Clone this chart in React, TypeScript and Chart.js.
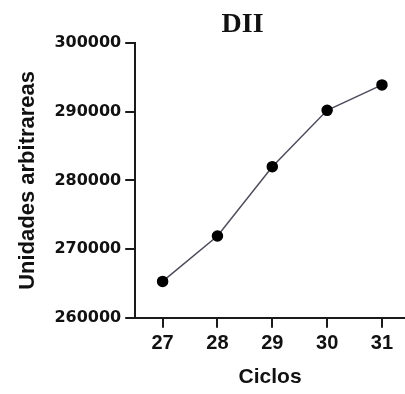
import React, { useEffect, useRef } from "react";
import { Chart, registerables } from "chart.js";

Chart.register(...registerables);

const chartTitle = "DII";
const xTitle = "Ciclos";
const yTitle = "Unidades arbitrareas";
const ciclos = [27, 28, 29, 30, 31];
const valores = [265300, 271900, 282000, 290200, 293900];
const yMin = 260000;
const yMax = 300000;
const yStep = 10000;

const AXIS = "#1a1a1a";

const titlePlugin = {
  id: "customTitle",
  afterDraw(chart: any) {
    const ctx = chart.ctx;
    ctx.save();
    ctx.font = "bold 28px 'Liberation Serif', 'Times New Roman', serif";
    ctx.fillStyle = "#111";
    ctx.textAlign = "center";
    ctx.textBaseline = "middle";
    ctx.fillText(chartTitle, chart.width * 0.599, 25);
    ctx.restore();
  },
};

export default function App() {
  const ref = useRef<HTMLCanvasElement | null>(null);
  useEffect(() => {
    if (!ref.current) return;
    const chart = new Chart(ref.current, {
      type: "line",
      data: {
        datasets: [
          {
            data: ciclos.map((c, i) => ({ x: c, y: valores[i] })),
            borderColor: "#4d4d5c",
            borderWidth: 1.5,
            pointBackgroundColor: "#000",
            pointBorderColor: "#000",
            pointRadius: 5,
            tension: 0,
            fill: false,
          },
        ],
      },
      options: {
        animation: false,
        responsive: true,
        maintainAspectRatio: false,
        layout: { autoPadding: false, padding: { top: 43, right: 0, bottom: 0, left: 10 } },
        plugins: {
          legend: { display: false },
          tooltip: { enabled: false },
          title: { display: false },
        },
        scales: {
          x: {
            type: "linear",
            min: 26.5,
            max: 31.42,
            afterBuildTicks: (scale: any) => {
              scale.ticks = ciclos.map((v) => ({ value: v }));
            },
            afterFit: (scale: any) => {
              scale.paddingLeft = 0;
              scale.paddingRight = 0;
            },
            ticks: {
              color: "#111",
              font: { family: "'Liberation Sans', Arial, sans-serif", size: 20, weight: "bold" },
              padding: 4,
              callback: (v: any) => String(v),
            },
            grid: {
              drawOnChartArea: false,
              drawTicks: true,
              tickLength: 10,
              color: AXIS,
              lineWidth: 2,
            },
            border: { display: true, color: AXIS, width: 2 },
            title: {
              display: true,
              text: xTitle,
              color: "#111",
              font: { family: "'Liberation Sans', Arial, sans-serif", size: 21, weight: "bold" },
              padding: { top: 5, bottom: 4 },
            },
          },
          y: {
            type: "linear",
            min: yMin,
            max: yMax,
            ticks: {
              stepSize: yStep,
              color: "#111",
              font: { family: "'DejaVu Sans', sans-serif", size: 16, weight: "bold" },
              padding: 4,
              callback: (v: any) => String(v),
            },
            grid: {
              drawOnChartArea: false,
              drawTicks: true,
              tickLength: 10,
              color: AXIS,
              lineWidth: 2,
            },
            border: { display: true, color: AXIS, width: 2 },
            title: {
              display: true,
              text: yTitle,
              color: "#111",
              font: { family: "'Liberation Sans', Arial, sans-serif", size: 22, weight: "bold" },
              padding: { top: 5, bottom: 9 },
            },
          },
        },
      },
      plugins: [titlePlugin],
    });
    return () => chart.destroy();
  }, []);
  return (
    <div style={{ position: "absolute", left: 0, top: 0, width: 405, height: 394, background: "#fff" }}>
      <canvas ref={ref} />
    </div>
  );
}
